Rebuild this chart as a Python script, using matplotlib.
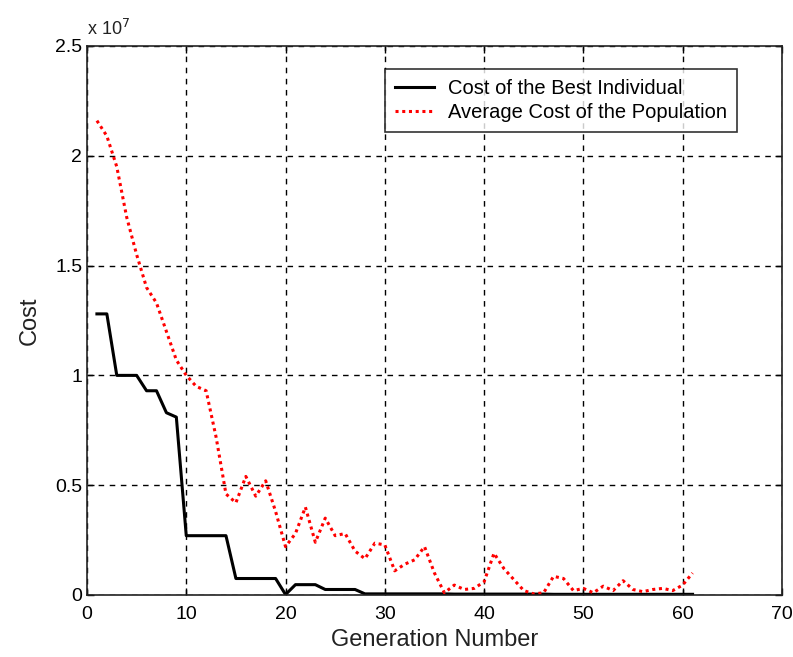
import matplotlib
matplotlib.use("Agg")
import matplotlib.pyplot as plt
from matplotlib.ticker import FuncFormatter

plt.rcParams['font.family'] = ['Liberation Sans', 'DejaVu Sans']

generations = list(range(1, 62))

best_cost = [12.8, 12.8, 10.0, 10.0, 10.0, 9.3, 9.3, 8.3, 8.1, 2.7,
             2.7, 2.7, 2.7, 2.7, 0.75, 0.75, 0.75, 0.75, 0.75, 0.02,
             0.47, 0.47, 0.47, 0.25, 0.25, 0.25, 0.25, 0.05, 0.05, 0.05,
             0.05, 0.05, 0.05, 0.05, 0.05, 0.05, 0.04, 0.04, 0.04, 0.04,
             0.04, 0.04, 0.04, 0.04, 0.04, 0.04, 0.03, 0.03, 0.03, 0.03,
             0.03, 0.03, 0.03, 0.03, 0.03, 0.03, 0.03, 0.03, 0.03, 0.03,
             0.03]

avg_cost = [21.6, 20.9, 19.5, 17.2, 15.5, 14.0, 13.3, 12.0, 10.7, 10.0,
            9.5, 9.3, 7.2, 4.6, 4.2, 5.4, 4.5, 5.2, 3.8, 2.2,
            2.8, 4.0, 2.4, 3.5, 2.7, 2.8, 2.0, 1.65, 2.36, 2.28,
            1.1, 1.4, 1.6, 2.2, 1.0, 0.1, 0.45, 0.25, 0.3, 0.6,
            1.9, 1.2, 0.7, 0.2, 0.05, 0.1, 0.85, 0.75, 0.2, 0.3,
            0.1, 0.4, 0.2, 0.65, 0.25, 0.15, 0.25, 0.3, 0.2, 0.45,
            1.0]

scale = 1e6
best = [v * scale for v in best_cost]
avg = [v * scale for v in avg_cost]

x_ticks = [0, 10, 20, 30, 40, 50, 60, 70]
y_ticks = [0, 0.5e7, 1.0e7, 1.5e7, 2.0e7, 2.5e7]

fig = plt.figure(figsize=(7.93, 6.57), dpi=100)
ax = fig.add_axes([0.1097, 0.0944, 0.8763, 0.8356])

ax.plot(generations, best, color='black', linewidth=2.2, linestyle='-',
        label='Cost of the Best Individual')
ax.plot(generations, avg, color='red', linewidth=2.2, linestyle=(0, (1, 1.2)),
        label='Average Cost of the Population')

ax.set_xlim(0, 70)
ax.set_ylim(0, 2.5e7)
ax.set_xticks(x_ticks)
ax.set_yticks(y_ticks)
ax.yaxis.set_major_formatter(FuncFormatter(lambda v, p: ('%g' % (v / 1e7))))

ax.grid(True, color='black', linestyle=(0, (4, 4)), linewidth=1.0)
ax.tick_params(direction='in', length=5, width=1, labelsize=14, colors='black',
               top=True, right=True)
ax.tick_params(axis='x', pad=8)
for s in ax.spines.values():
    s.set_linewidth(1.2)
    s.set_color('#222222')

ax.set_xlabel('Generation Number', fontsize=17, color='#222222')
ax.set_ylabel('Cost', fontsize=17, color='#222222', labelpad=10)

ax.text(0.0, 1.012, 'x 10$^{7}$', transform=ax.transAxes, fontsize=13,
        ha='left', va='bottom', color='#222222')

leg = ax.legend(loc='upper right', bbox_to_anchor=(0.935, 0.958),
                fontsize=14.5, frameon=True, fancybox=False, borderpad=0.5,
                handlelength=1.9, handletextpad=0.7, labelspacing=0.25,
                borderaxespad=0)
leg.get_frame().set_edgecolor('black')
leg.get_frame().set_linewidth(1.2)

fig.savefig('out.png', dpi=100)
